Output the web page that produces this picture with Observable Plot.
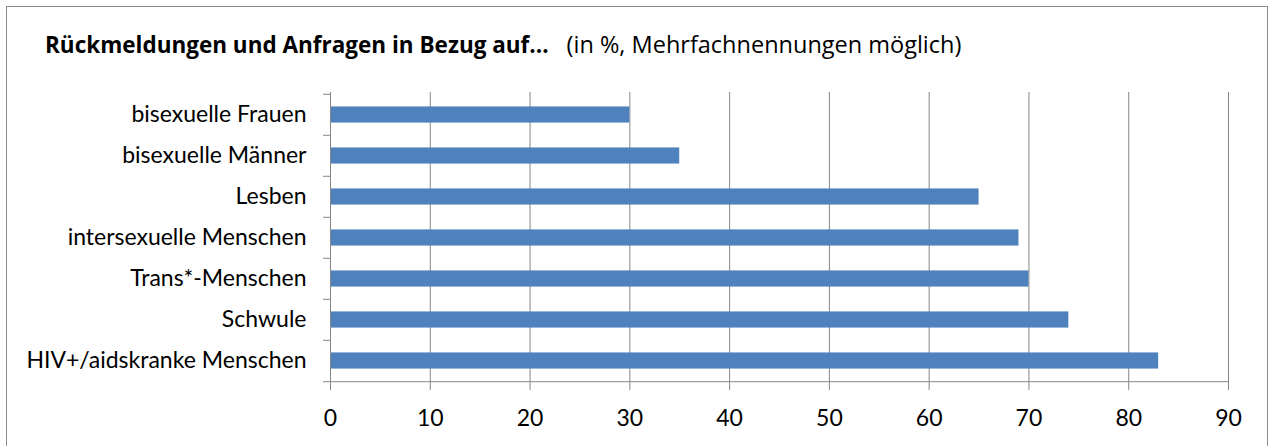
<!DOCTYPE html>
<html>
<head>
<meta charset="utf-8">
<script src="https://cdn.jsdelivr.net/npm/d3@7"></script>
<script src="https://cdn.jsdelivr.net/npm/@observablehq/plot@0.6"></script>
<style>
  html, body { margin: 0; padding: 0; background: #fff; overflow: hidden; }
  #page { position: relative; width: 1270px; height: 446px; overflow: hidden; font-family: Lato, "Open Sans", sans-serif; }
  #border { position: absolute; left: 6px; top: 6px; width: 1262px; height: 480px; border: 1px solid #8c8c8c; box-sizing: border-box; }
  #title { position: absolute; left: 45px; top: 30px; font-family: "Open Sans", Lato, sans-serif; font-size: 22.5px; color: #000; white-space: nowrap; line-height: 28px; }
  #title b { font-weight: 700; }
  #title span { margin-left: 18px; font-size: 23.5px; }
  #chart { position: absolute; left: 0; top: 80px; }
</style>
</head>
<body>
<div id="page">
  <div id="border"></div>
  <div id="title"><b>Rückmeldungen und Anfragen in Bezug auf...</b><span>(in %, Mehrfachnennungen möglich)</span></div>
  <div id="chart"></div>
</div>
<script>
const categories = ["bisexuelle Frauen", "bisexuelle Männer", "Lesben", "intersexuelle Menschen", "Trans*-Menschen", "Schwule", "HIV+/aidskranke Menschen"];
const values = [30, 35, 65, 69, 70, 74, 83];
const xTicks = [0, 10, 20, 30, 40, 50, 60, 70, 80, 90];

const data = categories.map((c, i) => ({cat: c, value: values[i]}));

const H = 366, MT = 12, MB = 64;
const step = (H - MT - MB) / categories.length;
const inset = step * 0.3;
const gray = "#868686";

const plot = Plot.plot({
  width: 1270,
  height: H,
  marginLeft: 330,
  marginRight: 42,
  marginTop: MT,
  marginBottom: MB,
  style: {fontFamily: "Lato, 'Open Sans', sans-serif", color: "#000", background: "transparent"},
  x: {domain: [0, 90], axis: null},
  y: {domain: categories, padding: 0, axis: null},
  marks: [
    Plot.gridX(xTicks.filter(d => d > 0), {stroke: gray, strokeOpacity: 1, strokeWidth: 1}),
    Plot.barX(data, {x: "value", y: "cat", fill: "#4F81BD", insetTop: inset, insetBottom: inset}),
    Plot.ruleX([0], {stroke: gray}),
    Plot.ruleY([categories[categories.length - 1]], {y: d => d, dy: step / 2, stroke: gray}),
    Plot.axisX(xTicks, {tickSize: 8, tickPadding: 19, stroke: gray, fill: "#000", fontSize: 23, label: null}),
    Plot.axisY({tickSize: 0, tickPadding: 24, fill: "#000", fontSize: 23, label: null}),
    Plot.axisY(categories, {tickSize: 7, tickFormat: () => "", dy: -step / 2, stroke: gray, label: null}),
    Plot.axisY([categories[categories.length - 1]], {tickSize: 7, tickFormat: () => "", dy: step / 2, stroke: gray, label: null})
  ]
});
document.getElementById("chart").appendChild(plot);
</script>
</body>
</html>
